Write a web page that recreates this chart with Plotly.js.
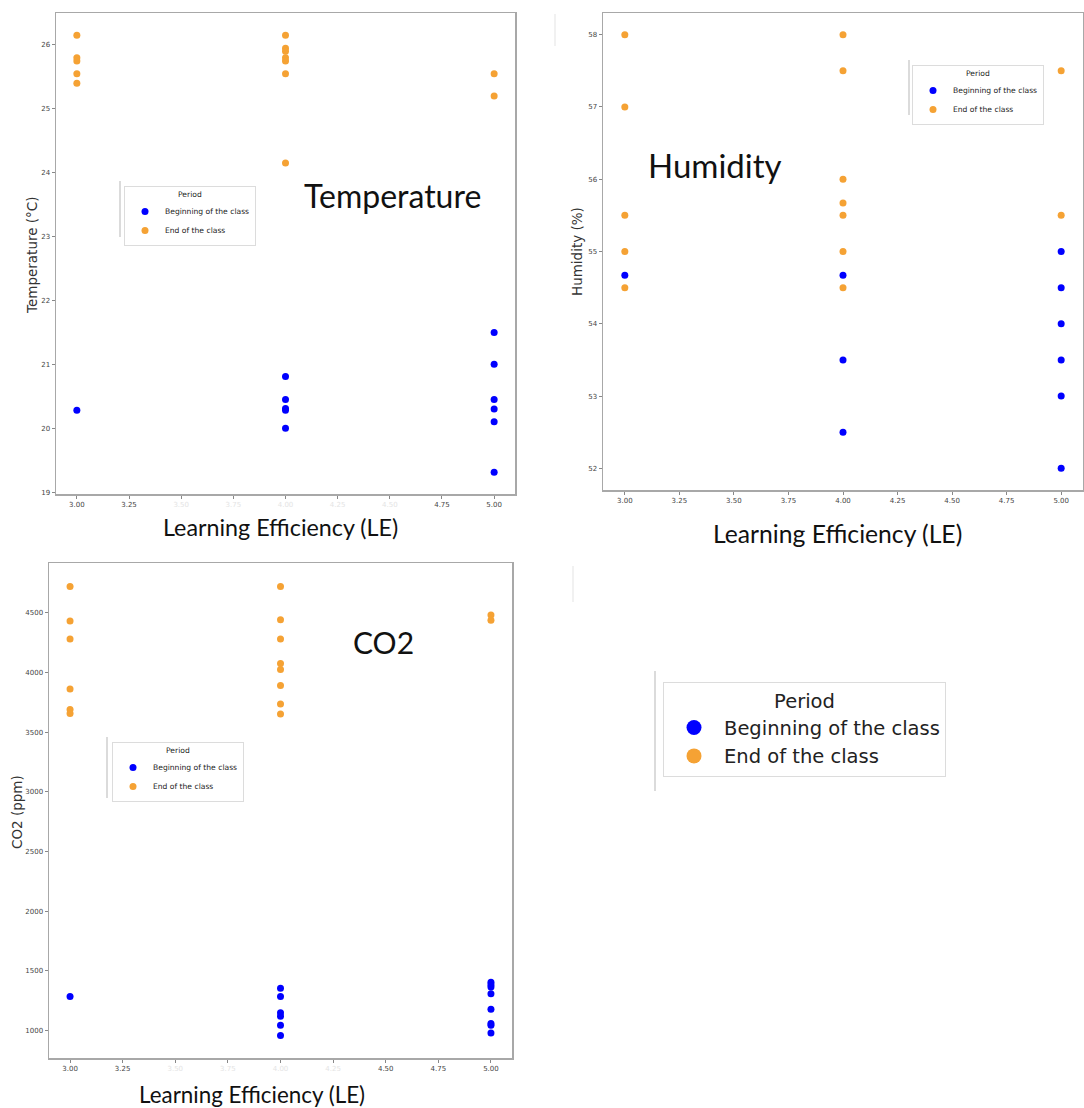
<!DOCTYPE html>
<html>
<head>
<meta charset="utf-8">
<script src="https://cdn.plot.ly/plotly-3.0.1.min.js"></script>
<style>html,body{margin:0;padding:0;background:#fff;overflow:hidden}#chart{width:1084px;height:1108px}</style>
</head>
<body>
<div id="chart"></div>
<script>
// ---- data ----
const leTicks = [3, 3.25, 3.5, 3.75, 4, 4.25, 4.5, 4.75, 5];
const leTickLabels = ["3.00", "3.25", "3.50", "3.75", "4.00", "4.25", "4.50", "4.75", "5.00"];
const periodNames = ["Beginning of the class", "End of the class"];

const tempBeginLE  = [3, 4, 4, 4, 4, 4, 5, 5, 5, 5, 5, 5];
const tempBeginVal = [20.28, 20.81, 20.45, 20.31, 20.28, 20.0, 21.5, 21.0, 20.45, 20.3, 20.1, 19.31];
const tempEndLE    = [3, 3, 3, 3, 3, 4, 4, 4, 4, 4, 4, 4, 5, 5];
const tempEndVal   = [26.15, 25.8, 25.75, 25.55, 25.4, 26.15, 25.95, 25.9, 25.8, 25.75, 25.55, 24.15, 25.55, 25.2];
const tempTicks    = [19, 20, 21, 22, 23, 24, 25, 26];

const humBeginLE  = [3, 4, 4, 4, 5, 5, 5, 5, 5, 5];
const humBeginVal = [54.67, 54.67, 53.5, 52.5, 55, 54.5, 54, 53.5, 53, 52];
const humEndLE    = [3, 3, 3, 3, 3, 4, 4, 4, 4, 4, 4, 4, 5, 5];
const humEndVal   = [58, 57, 55.5, 55, 54.5, 58, 57.5, 56, 55.67, 55.5, 55, 54.5, 57.5, 55.5];
const humTicks    = [52, 53, 54, 55, 56, 57, 58];

const co2BeginLE  = [3, 4, 4, 4, 4, 4, 4, 5, 5, 5, 5, 5, 5, 5, 5];
const co2BeginVal = [1285, 1355, 1285, 1150, 1120, 1045, 960, 1405, 1385, 1365, 1310, 1180, 1060, 1045, 980];
const co2EndLE    = [3, 3, 3, 3, 3, 3, 4, 4, 4, 4, 4, 4, 4, 4, 5, 5];
const co2EndVal   = [4720, 4430, 4280, 3860, 3690, 3655, 4720, 4440, 4280, 4075, 4025, 3890, 3735, 3652, 4480, 4436];
const co2Ticks    = [1000, 1500, 2000, 2500, 3000, 3500, 4000, 4500];

// ---- styling ----
const W = 1084, H = 1108;
const px = v => v / W;
const py = v => 1 - v / H;
const BLUE = "#0000ff", ORANGE = "#f5a234";
const tickFont = {family: "DejaVu Sans", size: 7, color: "#444"};
const legFont = {family: "DejaVu Sans", size: 7.6, color: "#222"};

function faint(labels, hidden) {
  return labels.map((t, i) => hidden.includes(i) ? '<span style="color:#e4e4e4">' + t + '</span>' : t);
}

function xax(domain, anchor, labels) {
  return {domain: domain, anchor: anchor, range: [2.9, 5.1], tickvals: leTicks, ticktext: labels,
    showline: true, mirror: true, linecolor: "#a8a8a8", linewidth: 1.5, ticks: "outside", ticklen: 3,
    tickcolor: "#888", showgrid: false, zeroline: false, tickfont: tickFont, fixedrange: true};
}
function yax(domain, anchor, range, ticks) {
  return {domain: domain, anchor: anchor, range: range, tickvals: ticks, ticktext: ticks.map(String),
    showline: true, mirror: true, linecolor: "#a8a8a8", linewidth: 1.5, ticks: "outside", ticklen: 3,
    tickcolor: "#888", showgrid: false, zeroline: false, tickfont: tickFont, fixedrange: true};
}
function pts(x, y, name, color, xa, ya, leg) {
  return {type: "scatter", mode: "markers", x: x, y: y, name: name, xaxis: xa, yaxis: ya, legend: leg,
    marker: {color: color, size: 7}, hoverinfo: "x+y"};
}

const traces = [
  pts(tempBeginLE, tempBeginVal, periodNames[0], BLUE, "x", "y", "legend"),
  pts(tempEndLE, tempEndVal, periodNames[1], ORANGE, "x", "y", "legend"),
  pts(humBeginLE, humBeginVal, periodNames[0], BLUE, "x2", "y2", "legend2"),
  pts(humEndLE, humEndVal, periodNames[1], ORANGE, "x2", "y2", "legend2"),
  pts(co2BeginLE, co2BeginVal, periodNames[0], BLUE, "x3", "y3", "legend3"),
  pts(co2EndLE, co2EndVal, periodNames[1], ORANGE, "x3", "y3", "legend3"),
  {type: "scatter", mode: "markers", x: [null], y: [null], name: periodNames[0], xaxis: "x3", yaxis: "y3",
    legend: "legend4", marker: {color: BLUE, size: 15}},
  {type: "scatter", mode: "markers", x: [null], y: [null], name: periodNames[1], xaxis: "x3", yaxis: "y3",
    legend: "legend4", marker: {color: ORANGE, size: 15}}
];

function leg(x, y, font, itemwidth) {
  return {x: x, y: y, xanchor: "left", yanchor: "top", bgcolor: "#fff", bordercolor: "#dcdcdc", borderwidth: 1,
    font: font, itemwidth: itemwidth || 30,
    title: {text: "Period", side: "top center", font: font}, itemclick: false, itemdoubleclick: false};
}

function ann(text, x, y, size, family, angle, color) {
  return {text: text, xref: "paper", yref: "paper", x: px(x), y: py(y), xanchor: "center", yanchor: "middle",
    showarrow: false, textangle: angle || 0, font: {family: family, size: size, color: color || "#111"}};
}

function vline(x, y0, y1, c) {
  return {type: "line", xref: "paper", yref: "paper", x0: px(x), x1: px(x), y0: py(y0), y1: py(y1),
    line: {color: c || "#cfcfcf", width: 1.5}};
}

const layout = {
  width: W, height: H, margin: {l: 0, r: 0, t: 0, b: 0}, paper_bgcolor: "#fff", plot_bgcolor: "#fff",
  showlegend: true,
  xaxis: xax([px(56), px(515)], "y", faint(leTickLabels, [2, 3, 4, 5, 6])),
  yaxis: yax([py(494), py(13)], "x", [18.97, 26.5], tempTicks),
  xaxis2: xax([px(603), px(1083)], "y2", leTickLabels),
  yaxis2: yax([py(490), py(13)], "x2", [51.7, 58.3], humTicks),
  xaxis3: xax([px(49), px(512)], "y3", faint(leTickLabels, [2, 3, 4, 5])),
  yaxis3: yax([py(1058), py(563)], "x3", [771, 4916], co2Ticks),
  legend: leg(px(124), py(186), legFont),
  legend2: leg(px(912), py(65), legFont),
  legend3: leg(px(112), py(742), legFont),
  legend4: leg(px(663), py(682), {family: "DejaVu Sans", size: 19.5, color: "#222"}, 50),
  annotations: [
    ann("Temperature", 392, 196, 32, "Lato"),
    ann("Humidity", 715, 165, 33, "Lato"),
    ann("CO2", 383, 642, 30, "Lato"),
    ann("Learning Efficiency (LE)", 280, 527, 23.3, "Lato"),
    ann("Learning Efficiency (LE)", 837, 533, 24.7, "Lato"),
    ann("Learning Efficiency (LE)", 252, 1094, 22.4, "Lato"),
    ann("Temperature (°C)", 32, 255, 13.5, "DejaVu Sans", -90, "#333"),
    ann("Humidity (%)", 577, 252, 13.5, "DejaVu Sans", -90, "#333"),
    ann("CO2 (ppm)", 17, 812, 13.5, "DejaVu Sans", -90, "#333")
  ],
  shapes: [vline(120, 181, 237), vline(909, 60, 115), vline(107, 737, 798), vline(655, 671, 791),
    vline(555, 14, 46, "#ececec"), vline(573, 566, 602, "#ececec")]
};

Plotly.newPlot("chart", traces, layout, {staticPlot: true, displayModeBar: false});
</script>
</body>
</html>
